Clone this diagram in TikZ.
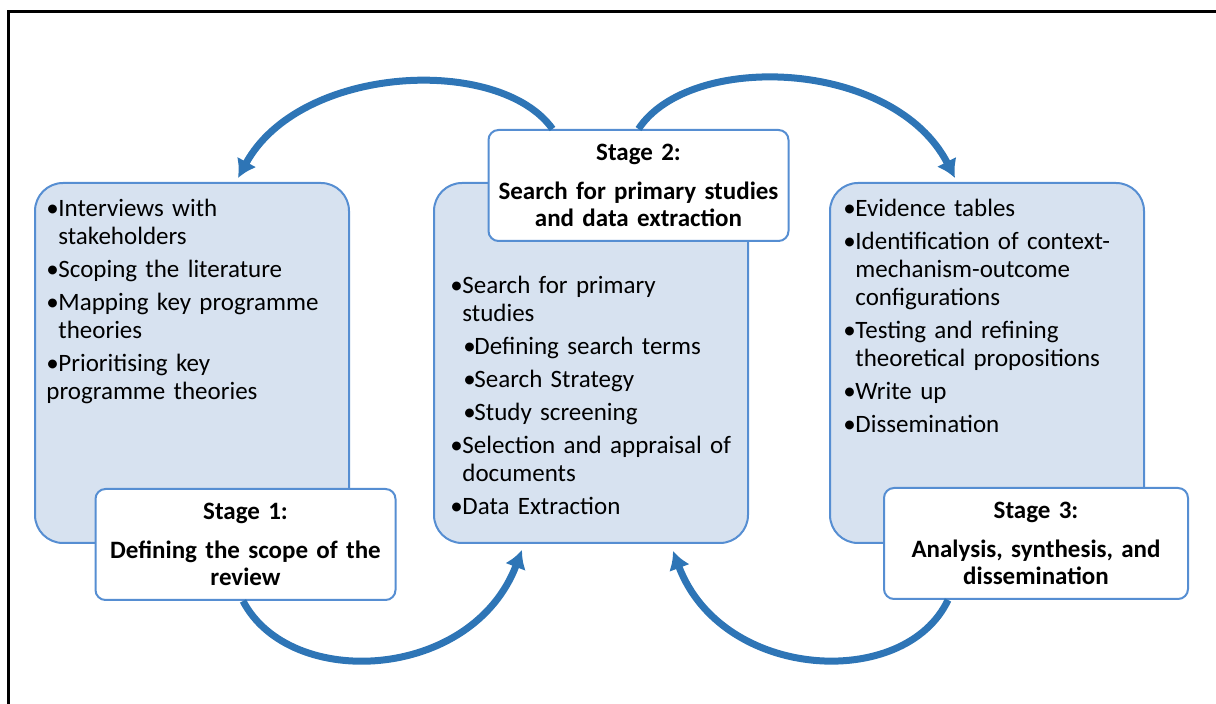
\documentclass[tikz,border=0pt]{standalone}
\usepackage{fontspec}
\setmainfont{Carlito}
\usetikzlibrary{arrows.meta,positioning,calc}
\definecolor{myblue}{RGB}{46,117,182}
\definecolor{edgeblue}{RGB}{86,142,210}
\definecolor{fillblue}{RGB}{215,226,240}
\newcommand{\bul}{\par\hangindent=6pt\hangafter=1\noindent\makebox[6pt][l]{\textbullet}}
\newcommand{\subbul}{\par\hangindent=12pt\hangafter=1\noindent\hspace*{6.5pt}\makebox[5.5pt][l]{\textbullet}}
\tikzset{
    line/.style     = {-{Latex[length=9pt,width=11pt]}, line width=3.5pt, draw=myblue},
    block/.style    = {draw=edgeblue, line width=1pt, fill=fillblue,
            minimum width=157pt, minimum height=180pt, rounded corners=14pt},
    stagebox/.style = {draw=edgeblue, line width=1pt, fill=white,
            minimum width=150pt, minimum height=55.5pt, rounded corners=5pt,
            text width=146pt, align=center, inner sep=0pt,
            font=\fontsize{12.5}{13.5}\selectfont\bfseries},
    itemtext/.style = {anchor=north west, inner sep=0pt, text width=152pt,
            align=left, font=\fontsize{12.5}{14}\selectfont},
}
\begin{document}
\begin{tikzpicture}[x=0.5pt, y=-0.5pt]
    \useasboundingbox (0,0) rectangle (1216,704);
    \draw[line width=1.5pt] (8,704) -- (8,12) -- (1216,12);
    % Nodes
    \node[block] (box1) at (192,363) {};
    \node[block, right=41.5pt of box1] (box2) {};
    \node[block, right=40pt of box2] (box3) {};
    \node[itemtext] (list1) at ($(box1.north west)+(12,1)$) {%
        \setlength{\parskip}{2.5pt}%
        \bul Interviews with\newline stakeholders
        \bul Scoping the literature
        \bul Mapping key programme\newline theories
        \bul Prioritising key\newline programme theories};
    \node[itemtext] (list2) at ($(box2.north west)+(17,78)$) {%
        \setlength{\parskip}{2.5pt}%
        \bul Search for primary\newline studies
        \subbul Defining search terms
        \subbul Search Strategy
        \subbul Study screening
        \bul Selection and appraisal of\newline documents
        \bul Data Extraction};
    \node[itemtext] (list3) at ($(box3.north west)+(14,1)$) {%
        \setlength{\parskip}{2.5pt}%
        \bul Evidence tables
        \bul Identification of context-\newline mechanism-outcome\newline configurations
        \bul Testing and refining\newline theoretical propositions
        \bul Write up
        \bul Dissemination};
    \node[stagebox] (stage1) at (245.5,544.5) {Stage 1:\\[6pt]Defining the scope of the\\review};
    \node[stagebox] (stage2) at (638.5,185.5) {Stage 2:\\[6pt]Search for primary studies\\and data extraction};
    \node[stagebox, minimum width=152pt] (stage3) at (1036,543.5) {Stage 3:\\[6pt]Analysis, synthesis, and\\dissemination};
    % Arrows
    \draw[line] ($(stage2.north)+(-86,0)$) .. controls +(-52.5,-74) and +(62,-114) .. ($(box1.north)+(46,-4)$);
    \draw[line] (stage2.north) .. controls +(51.5,-78) and +(-61,-119) .. ($(box3.north)+(-32,-4)$);
    \draw[line] ($(stage1.south)+(-2.5,0)$) .. controls +(47,90) and +(-50,131) .. ($(box2.south)+(-69,6)$);
    \draw[line] ($(stage3.south)+(-88,0)$) .. controls +(-43,91) and +(49,130) .. ($(box2.south)+(82,7)$);
\end{tikzpicture}
\end{document}
